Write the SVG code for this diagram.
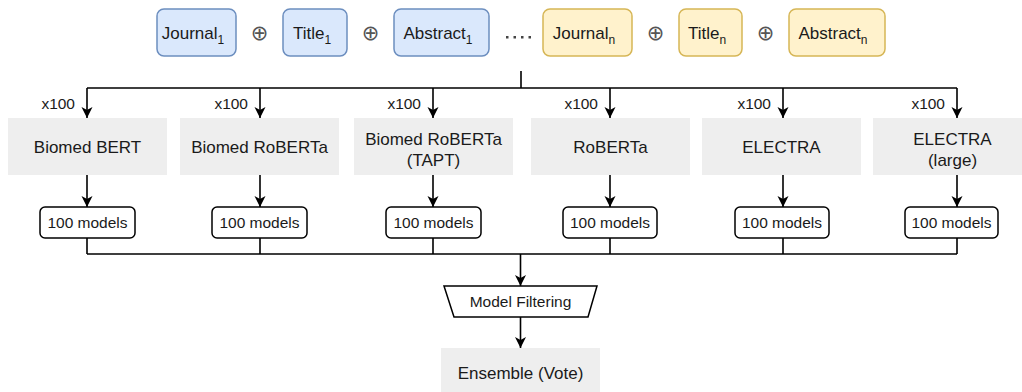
<svg xmlns="http://www.w3.org/2000/svg" width="1022" height="392" viewBox="0 0 1022 392">
<style>
text{font-family:"Liberation Sans",Arial,sans-serif;fill:#1a1a1a;text-anchor:middle}
.lbl{font-size:17px}
.sm{font-size:15.5px}
.sub{font-size:12px;fill:#1a1a1a}
.blue{fill:#dae8fc;stroke:#6c8ebf;stroke-width:1.5}
.yel{fill:#fff2cc;stroke:#d6b656;stroke-width:1.5}
.gray{fill:#eeeeee;stroke:none}
.mdl{fill:#ffffff;stroke:#000;stroke-width:1.5}
.op{font-family:"DejaVu Sans",sans-serif;font-size:21px;fill:#555}
.ln{fill:none;stroke:#000;stroke-width:1.6}
.x{font-size:15.5px;text-anchor:end}
</style>
<defs>
<marker id="arr" markerUnits="userSpaceOnUse" markerWidth="12" markerHeight="12" viewBox="0 0 12 12" refX="11" refY="6" orient="auto">
<path d="M0,0.5 L11,6 L0,11.5 L3,6 Z" fill="#000"/>
</marker>
</defs>
<rect width="1022" height="392" fill="#ffffff"/>

<g id="journal1"><rect class="blue" x="157" y="9" width="79" height="47" rx="7"/><text class="lbl" x="193" y="38.5">Journal<tspan class="sub" dy="5">1</tspan></text></g>
<text class="op" x="259.5" y="39.5">⊕</text>
<g id="title1"><rect class="blue" x="283" y="9" width="64" height="47" rx="7"/><text class="lbl" x="312" y="38.5">Title<tspan class="sub" dy="5">1</tspan></text></g>
<text class="op" x="370.5" y="39.5">⊕</text>
<g id="abstract1"><rect class="blue" x="394" y="9" width="95" height="47" rx="7"/><text class="lbl" x="438" y="38.5">Abstract<tspan class="sub" dy="5">1</tspan></text></g>
<g id="dots" fill="#444"><rect x="506" y="36" width="2.5" height="2.5"/><rect x="513.5" y="36" width="2.5" height="2.5"/><rect x="521" y="36" width="2.5" height="2.5"/><rect x="528.5" y="36" width="2.5" height="2.5"/></g>
<g id="journaln"><rect class="yel" x="543" y="9" width="89" height="47" rx="7"/><text class="lbl" x="584" y="38.5">Journal<tspan class="sub" dy="5">n</tspan></text></g>
<text class="op" x="655.5" y="39.5">⊕</text>
<g id="titlen"><rect class="yel" x="679" y="9" width="63" height="47" rx="7"/><text class="lbl" x="707" y="38.5">Title<tspan class="sub" dy="5">n</tspan></text></g>
<text class="op" x="765.5" y="39.5">⊕</text>
<g id="abstractn"><rect class="yel" x="789" y="9" width="96" height="47" rx="7"/><text class="lbl" x="833" y="38.5">Abstract<tspan class="sub" dy="5">n</tspan></text></g>

<g id="connectors">
<path class="ln" d="M521,71 V88 M87,88 H957"/>
<path class="ln" marker-end="url(#arr)" d="M87,88 V118"/>
<path class="ln" marker-end="url(#arr)" d="M260,88 V118"/>
<path class="ln" marker-end="url(#arr)" d="M433,88 V118"/>
<path class="ln" marker-end="url(#arr)" d="M610,88 V118"/>
<path class="ln" marker-end="url(#arr)" d="M783,88 V118"/>
<path class="ln" marker-end="url(#arr)" d="M957,88 V118"/>
<path class="ln" marker-end="url(#arr)" d="M87,175 V207"/>
<path class="ln" marker-end="url(#arr)" d="M260,175 V207"/>
<path class="ln" marker-end="url(#arr)" d="M433,175 V207"/>
<path class="ln" marker-end="url(#arr)" d="M610,175 V207"/>
<path class="ln" marker-end="url(#arr)" d="M783,175 V207"/>
<path class="ln" marker-end="url(#arr)" d="M957,175 V207"/>
<path class="ln" d="M87,238 V254 M260,238 V254 M433,238 V254 M610,238 V254 M783,238 V254 M957,238 V254 M87,254 H957"/>
<path class="ln" marker-end="url(#arr)" d="M520.5,254 V286"/>
<path class="ln" marker-end="url(#arr)" d="M520.5,317 V348"/>
</g>
<g id="x100labels">
<text class="x" x="75" y="108.5">x100</text>
<text class="x" x="248" y="108.5">x100</text>
<text class="x" x="421" y="108.5">x100</text>
<text class="x" x="598" y="108.5">x100</text>
<text class="x" x="771" y="108.5">x100</text>
<text class="x" x="945" y="108.5">x100</text>
</g>

<g id="biomedbert"><rect class="gray" x="8" y="118" width="159" height="57"/><text class="lbl" x="87.5" y="152.5">Biomed BERT</text></g>
<g id="biomedroberta"><rect class="gray" x="180" y="118" width="159" height="57"/><text class="lbl" x="259.5" y="152.5">Biomed RoBERTa</text></g>
<g id="biomedrobertatapt"><rect class="gray" x="354" y="118" width="159" height="57"/><text class="lbl" x="433.5" y="145">Biomed RoBERTa</text><text class="lbl" x="433.5" y="166">(TAPT)</text></g>
<g id="roberta"><rect class="gray" x="531" y="118" width="159" height="57"/><text class="lbl" x="610.5" y="152.5">RoBERTa</text></g>
<g id="electra"><rect class="gray" x="702" y="118" width="159" height="57"/><text class="lbl" x="781.5" y="152.5">ELECTRA</text></g>
<g id="electralarge"><rect class="gray" x="873" y="118" width="159" height="57"/><text class="lbl" x="952.5" y="145">ELECTRA</text><text class="lbl" x="952.5" y="166">(large)</text></g>

<g id="models1"><rect class="mdl" x="40" y="207" width="95" height="31" rx="5"/><text class="sm" x="87.5" y="228">100 models</text></g>
<g id="models2"><rect class="mdl" x="212" y="207" width="95" height="31" rx="5"/><text class="sm" x="259.5" y="228">100 models</text></g>
<g id="models3"><rect class="mdl" x="386" y="207" width="95" height="31" rx="5"/><text class="sm" x="433.5" y="228">100 models</text></g>
<g id="models4"><rect class="mdl" x="563" y="207" width="94" height="31" rx="5"/><text class="sm" x="610" y="228">100 models</text></g>
<g id="models5"><rect class="mdl" x="735" y="207" width="94" height="31" rx="5"/><text class="sm" x="782" y="228">100 models</text></g>
<g id="models6"><rect class="mdl" x="905" y="207" width="93" height="31" rx="5"/><text class="sm" x="951.5" y="228">100 models</text></g>

<g id="modelfiltering"><polygon class="mdl" points="444,286 597,286 588,317 454,317"/><text class="sm" x="520.5" y="307">Model Filtering</text></g>
<g id="ensemble"><rect class="gray" x="441" y="348" width="159" height="57"/><text class="lbl" x="520.5" y="379">Ensemble (Vote)</text></g>
</svg>
